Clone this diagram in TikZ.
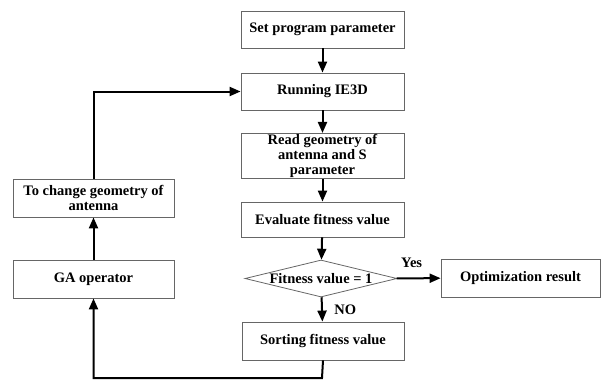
\documentclass[tikz,border=0pt]{standalone}
\usepackage{fontspec}
\setmainfont{Liberation Serif}
\usetikzlibrary{shapes.geometric,arrows.meta}
\tikzset{
  stepbox/.style={draw=black!60, line width=0.8pt, minimum width=163pt, minimum height=37pt,
    align=center, inner sep=1pt, font=\fontsize{14.5}{15}\selectfont\bfseries},
  testbox/.style={diamond, draw=black!60, line width=0.8pt, minimum width=152pt, minimum height=37pt,
    aspect=4.1, inner sep=0pt, font=\fontsize{14.5}{15}\selectfont\bfseries},
  flow/.style={-{Triangle[length=11pt,width=9pt]}, line width=2pt},
  tag/.style={font=\fontsize{14.5}{15}\selectfont\bfseries}
}
\begin{document}
\begin{tikzpicture}[x=1pt,y=-1pt]
                \useasboundingbox (0,0) rectangle (603,384);
                % main column
                \node[stepbox] (setpar) at (322.5,29.5) {Set program parameter};
                \node[stepbox] (run) at (322.5,91.5) {Running IE3D};
                \node[stepbox, minimum height=42pt] (read) at (322.5,156) {Read geometry of\\antenna and S\\parameter};
                \node[stepbox, minimum height=35pt] (eval) at (322.5,219.5) {Evaluate fitness value};
                \node[testbox] (test) at (321,278.5) {Fitness value = 1};
                \node[stepbox, minimum width=159pt, minimum height=38pt] (result) at (520.5,278) {Optimization result};
                \node[stepbox, minimum width=162pt, minimum height=38pt] (sort) at (323,341) {Sorting fitness value};
                % left column (loop back)
                \node[stepbox, minimum width=161pt, minimum height=38pt] (ga) at (93.5,279) {GA operator};
                \node[stepbox, minimum width=161pt, minimum height=38pt] (change) at (93.5,198) {To change geometry of\\antenna};
                \coordinate (low) at (322,378);
                % connectors
                \draw[flow] (setpar) -- (run);
                \draw[flow] (run) -- (read);
                \draw[flow] (read) -- (eval);
                \draw[flow] (eval) -- (test);
                \draw[flow] (test) -- node[tag, right, xshift=8pt] {NO} (sort);
                \draw[flow] (test) -- node[tag, above, xshift=-7pt, yshift=6pt] {Yes} (result);
                \draw[flow] (sort.south) -- (low) -| (ga.south);
                \draw[flow] (ga) -- (change);
                \draw[flow] (change.north) |- (run.west);
            \end{tikzpicture}
\end{document}
